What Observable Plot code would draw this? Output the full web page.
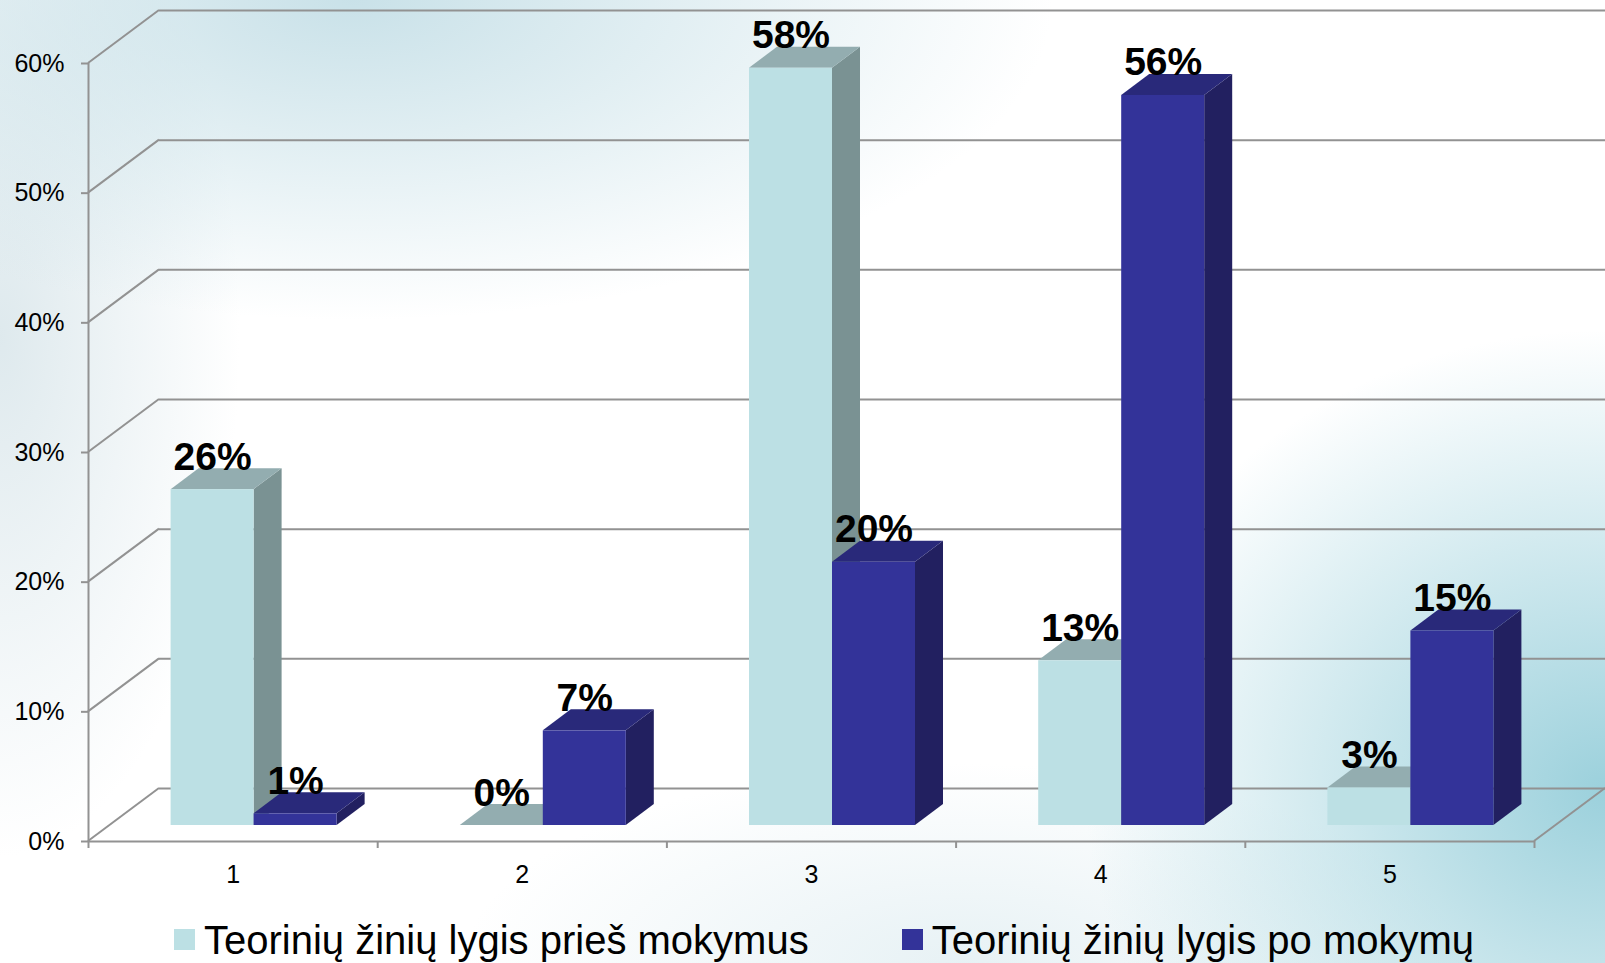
<!DOCTYPE html>
<html>
<head>
<meta charset="utf-8">
<script src="https://cdn.jsdelivr.net/npm/d3@7"></script>
<script src="https://cdn.jsdelivr.net/npm/@observablehq/plot@0.6"></script>
<style>
  html, body { margin: 0; padding: 0; }
  body {
    width: 1605px; height: 963px; overflow: hidden; position: relative;
    font-family: "Liberation Sans", Arial, sans-serif;
    background:
      radial-gradient(ellipse 520px 460px at 100% 82%, rgba(150,206,218,0.95), rgba(150,206,218,0) 100%),
      radial-gradient(ellipse 700px 320px at 22% 0%, rgba(195,222,230,0.9), rgba(255,255,255,0) 100%),
      radial-gradient(ellipse 240px 520px at 0% 35%, rgba(214,228,233,0.8), rgba(255,255,255,0) 100%),
      radial-gradient(ellipse 500px 200px at 60% 100%, rgba(225,238,242,0.8), rgba(255,255,255,0) 100%),
      #ffffff;
  }
  #chart svg { display: block; overflow: visible; background: transparent; }
  #legend {
    position: absolute; left: 174px; top: 908px; height: 63px;
    display: flex; align-items: center; box-sizing: border-box;
  }
  .item { display: flex; align-items: center; margin-right: 93px; font-size: 40px; line-height: 40px; color: #000; white-space: nowrap; }
  .sw { width: 21px; height: 21px; margin-right: 9px; }
</style>
</head>
<body>
<div id="chart"></div>
<div id="legend"></div>
<script>
// ---- data ----
const categories = [1, 2, 3, 4, 5];
const categoryLabels = ["1", "2", "3", "4", "5"];
const seriesNames = ["Teorinių žinių lygis prieš mokymus", "Teorinių žinių lygis po mokymų"];
const beforeValues = [0.259, 0.000, 0.584, 0.127, 0.029];
const afterValues  = [0.009, 0.073, 0.203, 0.563, 0.150];
const yTicks = [0, 0.1, 0.2, 0.3, 0.4, 0.5, 0.6];
const yTickLabels = ["0%", "10%", "20%", "30%", "40%", "50%", "60%"];
const xBoundaries = [0.5, 1.5, 2.5, 3.5, 4.5, 5.5];

// ---- style ----
const BAR_W = 0.287;                 // bar width as fraction of category band
const FRONT = {dx: 21, dy: -16};     // bars' front plane offset from floor front edge
const DEPTH = {dx: 28, dy: -21};     // bar depth
const WALL  = {dx: 71, dy: -53};     // wall/floor depth
const GRID = "#929292";
const palette = [
  {front: "#bce0e4", side: "#7a9293", top: "#93adb0"},
  {front: "#333399", side: "#222060", top: "#29297a"}
];
const pct = d3.format(".0%");

const seriesData = [beforeValues, afterValues].map((vals, si) =>
  categories.map((c, i) => ({
    cat: c,
    value: vals[i],
    x1: si === 0 ? c - BAR_W : c,
    x2: si === 0 ? c : c + BAR_W
  }))
);

function bar3d(data, col) {
  return Plot.rect(data, {
    x1: "x1", x2: "x2", y1: 0, y2: "value", fill: col.front,
    render(index, scales, values) {
      const g = d3.create("svg:g");
      for (const i of index) {
        const x1 = values.x1[i] + FRONT.dx, x2 = values.x2[i] + FRONT.dx;
        const yb = values.y1[i] + FRONT.dy, yt = values.y2[i] + FRONT.dy;
        const ddx = DEPTH.dx, ddy = DEPTH.dy;
        g.append("polygon")
          .attr("points", [[x2, yb], [x2, yt], [x2 + ddx, yt + ddy], [x2 + ddx, yb + ddy]].join(" "))
          .attr("fill", col.side);
        g.append("polygon")
          .attr("points", [[x1, yt], [x2, yt], [x2 + ddx, yt + ddy], [x1 + ddx, yt + ddy]].join(" "))
          .attr("fill", col.top);
        g.append("rect")
          .attr("x", x1).attr("y", yt).attr("width", x2 - x1).attr("height", Math.max(0, yb - yt))
          .attr("fill", col.front);
      }
      return g.node();
    }
  });
}

// depth links (left wall diagonals, right floor edge)
function depthLinks(data, opts) {
  return Plot.link(data, {
    ...opts,
    stroke: GRID, strokeWidth: 2,
    render(index, scales, values) {
      const g = d3.create("svg:g");
      for (const i of index) {
        const x = values.x1[i], y = values.y1[i];
        g.append("line")
          .attr("x1", x).attr("y1", y)
          .attr("x2", x + WALL.dx).attr("y2", y + WALL.dy)
          .attr("stroke", GRID).attr("stroke-width", 2);
      }
      return g.node();
    }
  });
}

const plot = Plot.plot({
  width: 1605,
  height: 900,
  marginLeft: 88,
  marginRight: 71,
  marginTop: 63,
  marginBottom: 59,
  style: {background: "transparent", fontFamily: "'Liberation Sans', Arial, sans-serif", color: "#000", overflow: "visible"},
  x: {domain: [0.5, 5.5]},
  y: {domain: [0, 0.6]},
  marks: [
    // back wall gridlines
    Plot.ruleY(yTicks, {x1: 0.5, x2: 5.5, dx: WALL.dx, dy: WALL.dy, stroke: GRID, strokeWidth: 2}),
    // left wall diagonals
    depthLinks(yTicks, {x1: 0.5, x2: 0.5, y1: d => d, y2: d => d}),
    // right floor edge
    depthLinks([0], {x1: 5.5, x2: 5.5, y1: 0, y2: 0}),
    // front floor edge & vertical axis
    Plot.ruleY([0], {x1: 0.5, x2: 5.5, stroke: GRID, strokeWidth: 2}),
    Plot.ruleX([0.5], {y1: 0, y2: 0.6, stroke: GRID, strokeWidth: 2}),
    // axes
    Plot.axisY(yTicks, {
      tickSize: 7, tickPadding: 17, stroke: GRID, strokeWidth: 2, fontSize: 25, label: null,
      tickFormat: d => yTickLabels[yTicks.indexOf(d)]
    }),
    Plot.axisX(xBoundaries, {tickSize: 7, stroke: GRID, strokeWidth: 2, tickFormat: () => "", label: null}),
    Plot.axisX(categories, {
      tickSize: 0, tickPadding: 24, fontSize: 25, label: null,
      tickFormat: d => categoryLabels[categories.indexOf(d)]
    }),
    // bars
    bar3d(seriesData[0], palette[0]),
    bar3d(seriesData[1], palette[1]),
    // value labels
    ...seriesData.map(data => Plot.text(data, {
      x: d => (d.x1 + d.x2) / 2, y: "value", text: d => pct(d.value),
      dx: FRONT.dx, dy: FRONT.dy + DEPTH.dy + 1,
      lineAnchor: "bottom", textAnchor: "middle",
      fontSize: 39, fontWeight: "bold", fill: "#000"
    }))
  ]
});
document.getElementById("chart").append(plot);

// legend
const legend = document.getElementById("legend");
seriesNames.forEach((name, i) => {
  const item = document.createElement("div");
  item.className = "item";
  const sw = document.createElement("div");
  sw.className = "sw";
  sw.style.background = palette[i].front;
  const t = document.createElement("span");
  t.textContent = name;
  item.append(sw, t);
  legend.append(item);
});
</script>
</body>
</html>
